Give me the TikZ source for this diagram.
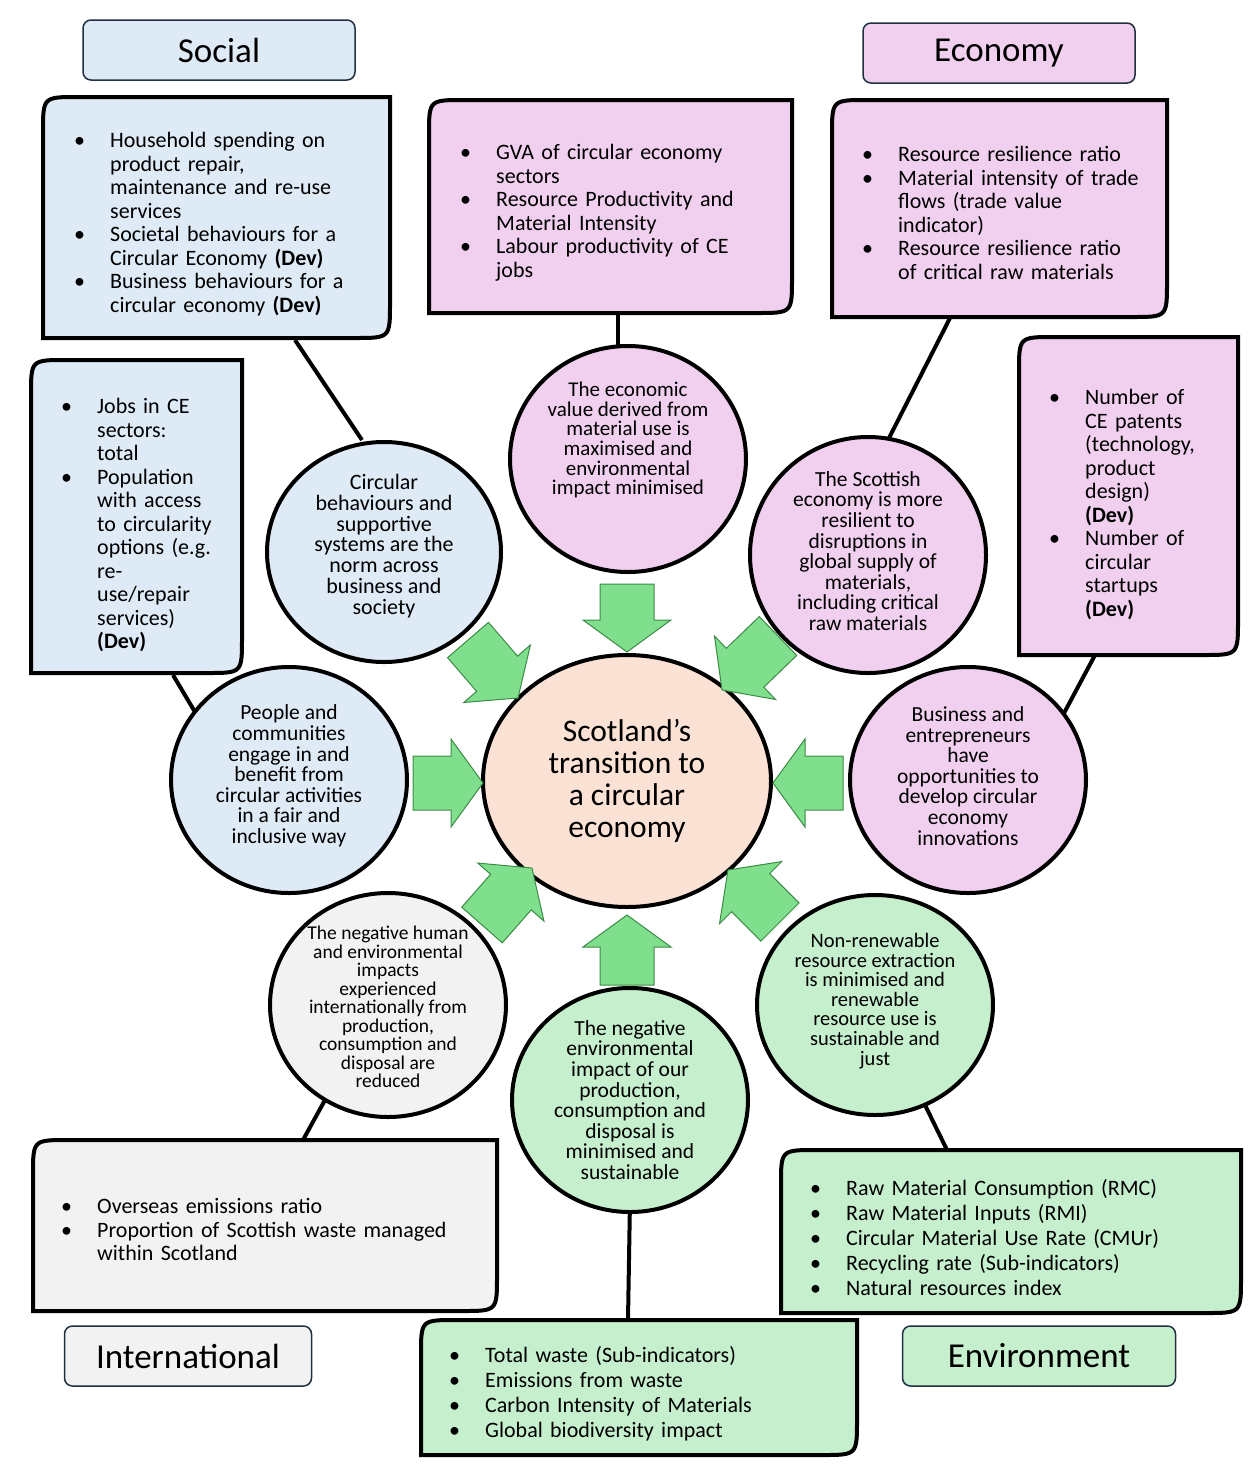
\documentclass[tikz,border=0pt]{standalone}
\usepackage{fontspec}
\setmainfont{Carlito}
\usetikzlibrary{calc,shapes.geometric}
\definecolor{cblue}{HTML}{DEEAF6}
\definecolor{cpink}{HTML}{F0D0EE}
\definecolor{cgreen}{HTML}{C6EFCE}
\definecolor{cgray}{HTML}{F2F2F2}
\definecolor{cpeach}{HTML}{FBE2D5}
\definecolor{agreen}{HTML}{80DF8C}
\definecolor{dgreen}{HTML}{3C8A46}
\definecolor{tborder}{HTML}{203040}
\newcommand\bitem[1]{\par\noindent\hangindent=36pt\hangafter=1\makebox[36pt][l]{\textbullet}#1\par}
\newcommand\rbox[5]{\draw[line width=4pt,fill=#5] (#1,#4) -- (#1,#2+35) .. controls (#1,#2) .. (#1+35,#2) -- (#3,#2) -- (#3,#4-35) .. controls (#3,#4) .. (#3-35,#4) -- cycle;}
\newcommand\barrow[2]{\path let \p1=($(#2)-(#1)$), \n1={atan2(\y1,\x1)}, \n2={veclen(\x1,\y1)} in [shift={(#1)}, rotate=\n1] [draw=dgreen,fill=agreen,line width=1pt] (0pt,-27pt) -- (\n2-32pt,-27pt) -- (\n2-32pt,-44pt) -- (\n2,0pt) -- (\n2-32pt,44pt) -- (\n2-32pt,27pt) -- (0pt,27pt) -- cycle;}
\begin{document}
\begin{tikzpicture}[x=1pt,y=-1pt,
  box/.style={anchor=north west,inner sep=0pt,align=left,font=\fontsize{22}{23.5}\selectfont},
  ctext/.style={align=center,inner sep=0pt},
  circ/.style={draw,line width=4pt,ellipse},
  ttl/.style={draw=tborder,line width=1.5pt,rounded corners=8pt,minimum height=60pt,font=\fontsize{35}{38}\selectfont},
  conn/.style={line width=4pt}]
\useasboundingbox (0,0) rectangle (1254,1470);
% titles
\node[ttl,fill=cblue,minimum width=272pt] (tsoc) at (219,50) {Social};
\node[ttl,fill=cpink,minimum width=272pt] (teco) at (999,53) {Economy};
\node[ttl,fill=cgray,minimum width=247pt] (tint) at (188,1356) {International};
\node[ttl,fill=cgreen,minimum width=273pt] (tenv) at (1039,1356) {Environment};
% boxes
\rbox{43}{97}{390}{338}{cblue}
\rbox{429}{100}{792}{313}{cpink}
\rbox{832}{100}{1167}{317}{cpink}
\rbox{31}{360}{242}{673}{cblue}
\rbox{1019}{337}{1238}{655}{cpink}
\rbox{33}{1140}{497}{1311}{cgray}
\rbox{781}{1150}{1241}{1313}{cgreen}
\rbox{421}{1320}{857}{1455}{cgreen}
\node[box,text width=310pt] (ba) at (74,124) {\bitem{Household spending on\newline product repair,\newline maintenance and re-use\newline services}\bitem{Societal behaviours for a\newline Circular Economy \textbf{(Dev)}}\bitem{Business behaviours for a\newline circular economy \textbf{(Dev)}}};
\node[box,text width=320pt] (bb) at (460,136) {\bitem{GVA of circular economy\newline sectors}\bitem{Resource Productivity and\newline Material Intensity}\bitem{Labour productivity of CE\newline jobs}};
\node[box,text width=300pt] (bc) at (862,138) {\bitem{Resource resilience ratio}\bitem{Material intensity of trade\newline flows (trade value\newline indicator)}\bitem{Resource resilience ratio\newline of critical raw materials}};
\node[box,text width=200pt] (bd) at (61,390) {\bitem{Jobs in CE\newline sectors:\newline total}\bitem{Population\newline with access\newline to circularity\newline options (e.g.\newline re-\newline use/repair\newline services)\newline \textbf{(Dev)}}};
\node[box,text width=200pt] (be) at (1049,381) {\bitem{Number of\newline CE patents\newline (technology,\newline product\newline design)\newline \textbf{(Dev)}}\bitem{Number of\newline circular\newline startups\newline \textbf{(Dev)}}};
\node[box,text width=440pt] (bf) at (61,1190) {\bitem{Overseas emissions ratio}\bitem{Proportion of Scottish waste managed\newline within Scotland}};
\node[box,text width=440pt,font=\fontsize{22}{25}\selectfont] (bg) at (810,1170) {\bitem{Raw Material Consumption (RMC)}\bitem{Raw Material Inputs (RMI)}\bitem{Circular Material Use Rate (CMUr)}\bitem{Recycling rate (Sub-indicators)}\bitem{Natural resources index}};
\node[box,text width=420pt,font=\fontsize{22}{25}\selectfont] (bh) at (449,1337) {\bitem{Total waste (Sub-indicators)}\bitem{Emissions from waste}\bitem{Carbon Intensity of Materials}\bitem{Global biodiversity impact}};
% connector endpoints
\coordinate (pa) at (295,340); \coordinate (pb) at (618,313); \coordinate (pc) at (950,318);
\coordinate (pd) at (173,675); \coordinate (pe) at (1095,655); \coordinate (pf) at (303,1140);
\coordinate (pg) at (947,1150); \coordinate (ph) at (628,1320);
\coordinate (qa) at (362,440); \coordinate (qc) at (888,440); \coordinate (qd) at (195,712);
\coordinate (qe) at (1063,715); \coordinate (qf) at (325,1100); \coordinate (qg) at (925,1105);
\coordinate (qb) at (618,350); \coordinate (qh) at (630,1200);
% connectors
\draw[conn] (pa) -- (qa);
\draw[conn] (pb) -- (qb);
\draw[conn] (pc) -- (qc);
\draw[conn] (pd) -- (qd);
\draw[conn] (pe) -- (qe);
\draw[conn] (qf) -- (pf);
\draw[conn] (qh) -- (ph);
\draw[conn] (qg) -- (pg);
% circles
\node[circ,fill=cpeach,minimum width=288pt,minimum height=252pt] (cen) at (627,781) {};
\node[font=\fontsize{31.5}{32}\selectfont,align=center] (cent) at (627,781) {Scotland’s\\transition to\\a circular\\economy};
\node[circ,fill=cpink,minimum width=236pt,minimum height=226pt] (c1) at (628,459) {};
\node[circ,fill=cblue,minimum width=234pt,minimum height=220pt] (c2) at (384,552) {};
\node[circ,fill=cpink,minimum width=236pt,minimum height=236pt] (c3) at (868,555) {};
\node[circ,fill=cblue,minimum width=236pt,minimum height=226pt] (c4) at (289,780) {};
\node[circ,fill=cpink,minimum width=236pt,minimum height=226pt] (c5) at (968,780) {};
\node[circ,fill=cgray,minimum width=236pt,minimum height=224pt] (c6) at (388,1005) {};
\node[circ,fill=cgreen,minimum width=236pt,minimum height=224pt] (c7) at (630,1100) {};
\node[circ,fill=cgreen,minimum width=236pt,minimum height=220pt] (c8) at (875,1005) {};
\node[ctext,font=\fontsize{21}{19.6}\selectfont] (t1) at (628,440) {The economic\\value derived from\\material use is\\maximised and\\environmental\\impact minimised};
\node[ctext,font=\fontsize{22}{20.8}\selectfont] (t2) at (384,546) {Circular\\behaviours and\\supportive\\systems are the\\norm across\\business and\\society};
\node[ctext,font=\fontsize{21.5}{20.6}\selectfont] (t3) at (868,551) {The Scottish\\economy is more\\resilient to\\disruptions in\\global supply of\\materials,\\including critical\\raw materials};
\node[ctext,font=\fontsize{21.5}{20.6}\selectfont] (t4) at (289,776) {People and\\communities\\engage in and\\benefit from\\circular activities\\in a fair and\\inclusive way};
\node[ctext,font=\fontsize{21.5}{20.6}\selectfont] (t5) at (968,776) {Business and\\entrepreneurs\\have\\opportunities to\\develop circular\\economy\\innovations};
\node[ctext,font=\fontsize{19.5}{18.5}\selectfont] (t6) at (388,1007) {The negative human\\and environmental\\impacts\\experienced\\internationally from\\production,\\consumption and\\disposal are\\reduced};
\node[ctext,font=\fontsize{21.5}{20.6}\selectfont] (t7) at (630,1100) {The negative\\environmental\\impact of our\\production,\\consumption and\\disposal is\\minimised and\\sustainable};
\node[ctext,font=\fontsize{20.5}{19.6}\selectfont] (t8) at (875,1001) {Non-renewable\\resource extraction\\is minimised and\\renewable\\resource use is\\sustainable and\\just};
% arrows
\coordinate (a1s) at (627,584); \coordinate (a1e) at (627,652);
\coordinate (a2s) at (468,640); \coordinate (a2e) at (518,698);
\coordinate (a3s) at (413,783); \coordinate (a3e) at (483,783);
\coordinate (a4s) at (843,783); \coordinate (a4e) at (773,783);
\coordinate (a5s) at (778,636); \coordinate (a5e) at (722,690);
\coordinate (a6s) at (482,925); \coordinate (a6e) at (532,868);
\coordinate (a7s) at (627,985); \coordinate (a7e) at (627,915);
\coordinate (a8s) at (780,922); \coordinate (a8e) at (728,870);
\barrow{a1s}{a1e}\barrow{a2s}{a2e}\barrow{a3s}{a3e}\barrow{a4s}{a4e}
\barrow{a5s}{a5e}\barrow{a6s}{a6e}\barrow{a7s}{a7e}\barrow{a8s}{a8e}
\end{tikzpicture}
\end{document}
